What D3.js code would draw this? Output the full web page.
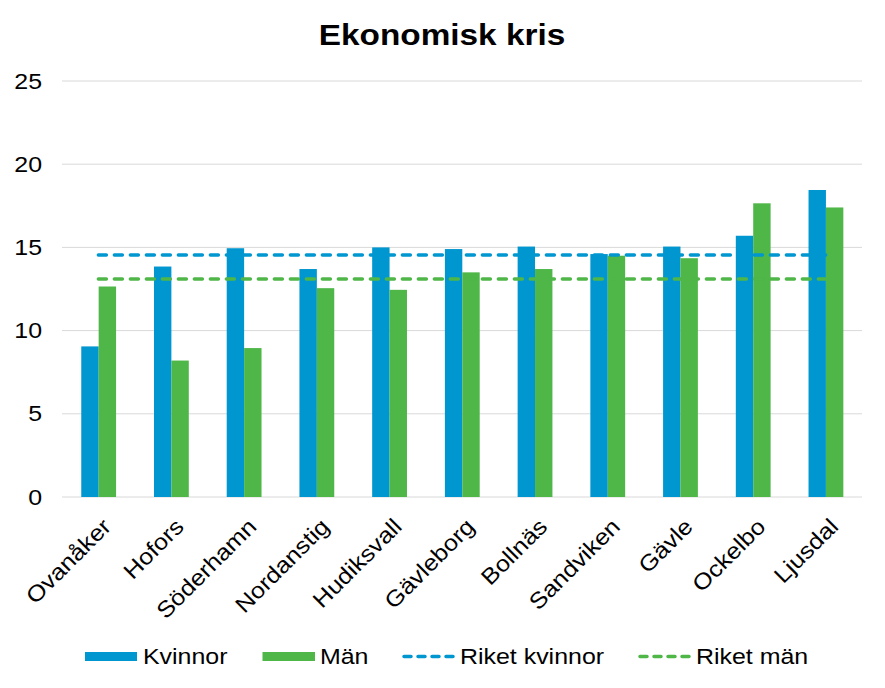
<!DOCTYPE html>
<html><head><meta charset="utf-8">
<script src="https://cdn.jsdelivr.net/npm/d3@7"></script>
<style>body{margin:0;background:#fff;}text{font-family:"Liberation Sans",Arial,sans-serif;fill:#000;}</style>
</head><body>
<svg id="c" width="885" height="688"></svg>
<script>
const categories = ["Ovanåker","Hofors","Söderhamn","Nordanstig","Hudiksvall","Gävleborg","Bollnäs","Sandviken","Gävle","Ockelbo","Ljusdal"];
const kvinnor = [9.05,13.85,14.95,13.7,15.0,14.9,15.05,14.6,15.05,15.7,18.45];
const man = [12.65,8.2,8.95,12.55,12.45,13.5,13.7,14.5,14.35,17.65,17.4];
const riketKvinnor = 14.55;
const riketMan = 13.1;
const yTicks = [0,5,10,15,20,25];
const seriesNames = ["Kvinnor","Män","Riket kvinnor","Riket män"];
const blue = "#0096cf", green = "#4fb648";

const svg = d3.select("#c");
const m = {l:62, r:862, t:81, b:497};
const x = d3.scaleBand().domain(categories).range([m.l,m.r]);
const y = d3.scaleLinear().domain([0,25]).range([m.b,m.t]);
const bw = 17.4;
const fs = "21.5px", sx = 1.16;

svg.append("text").attr("transform","translate(442,45) scale(1.13,1)").attr("text-anchor","middle")
  .style("font-size","29.5px").style("font-weight","bold").text("Ekonomisk kris");

// gridlines
svg.append("g").selectAll("line").data(yTicks).join("line")
  .attr("x1",m.l).attr("x2",m.r).attr("y1",d=>y(d)).attr("y2",d=>y(d))
  .attr("stroke","#d9d9d9").attr("stroke-width",1);

// y axis labels
svg.append("g").selectAll("text").data(yTicks).join("text")
  .attr("transform",d=>`translate(42,${y(d)+7.5}) scale(${sx},1)`).attr("text-anchor","end")
  .style("font-size",fs).text(d=>d);

const cx = d=>x(d)+x.bandwidth()/2;
svg.append("g").selectAll("rect").data(categories).join("rect")
  .attr("x",(d)=>cx(d)-bw+0.3).attr("width",bw)
  .attr("y",(d,i)=>y(kvinnor[i])).attr("height",(d,i)=>y(0)-y(kvinnor[i])).attr("fill",blue);
svg.append("g").selectAll("rect").data(categories).join("rect")
  .attr("x",(d)=>cx(d)+0.3).attr("width",bw)
  .attr("y",(d,i)=>y(man[i])).attr("height",(d,i)=>y(0)-y(man[i])).attr("fill",green);

// reference lines
const x0 = cx(categories[0]), x1 = cx(categories[categories.length-1]);
[[riketKvinnor,blue],[riketMan,green]].forEach(([v,c])=>{
  svg.append("line").attr("x1",x0).attr("x2",x1).attr("y1",y(v)).attr("y2",y(v))
    .attr("stroke",c).attr("stroke-width",3.5).attr("stroke-dasharray","8,8")
    .attr("stroke-linecap","round");
});

// x labels
svg.append("g").selectAll("text").data(categories).join("text")
  .attr("transform",d=>`translate(${cx(d)+14},${m.b+31}) rotate(-45) scale(1.12,1)`)
  .attr("text-anchor","end")
  .style("font-size","22.5px").text(d=>d);

// legend
const ly = 656.5;
const lg = svg.append("g");
const ltext = (xp,t)=>lg.append("text").attr("transform",`translate(${xp},${ly+7.5}) scale(${sx},1)`).style("font-size",fs).text(t);
lg.append("rect").attr("x",85).attr("y",ly-4.5).attr("width",52).attr("height",9).attr("fill",blue);
ltext(143,seriesNames[0]);
lg.append("rect").attr("x",262.5).attr("y",ly-4.5).attr("width",52.5).attr("height",9).attr("fill",green);
ltext(320,seriesNames[1]);
lg.append("line").attr("x1",404).attr("x2",453).attr("y1",ly).attr("y2",ly).attr("stroke",blue)
  .attr("stroke-width",3.5).attr("stroke-dasharray","7,7").attr("stroke-linecap","round");
ltext(460,seriesNames[2]);
lg.append("line").attr("x1",640).attr("x2",689).attr("y1",ly).attr("y2",ly).attr("stroke",green)
  .attr("stroke-width",3.5).attr("stroke-dasharray","7,7").attr("stroke-linecap","round");
ltext(696,seriesNames[3]);
</script>
</body></html>
